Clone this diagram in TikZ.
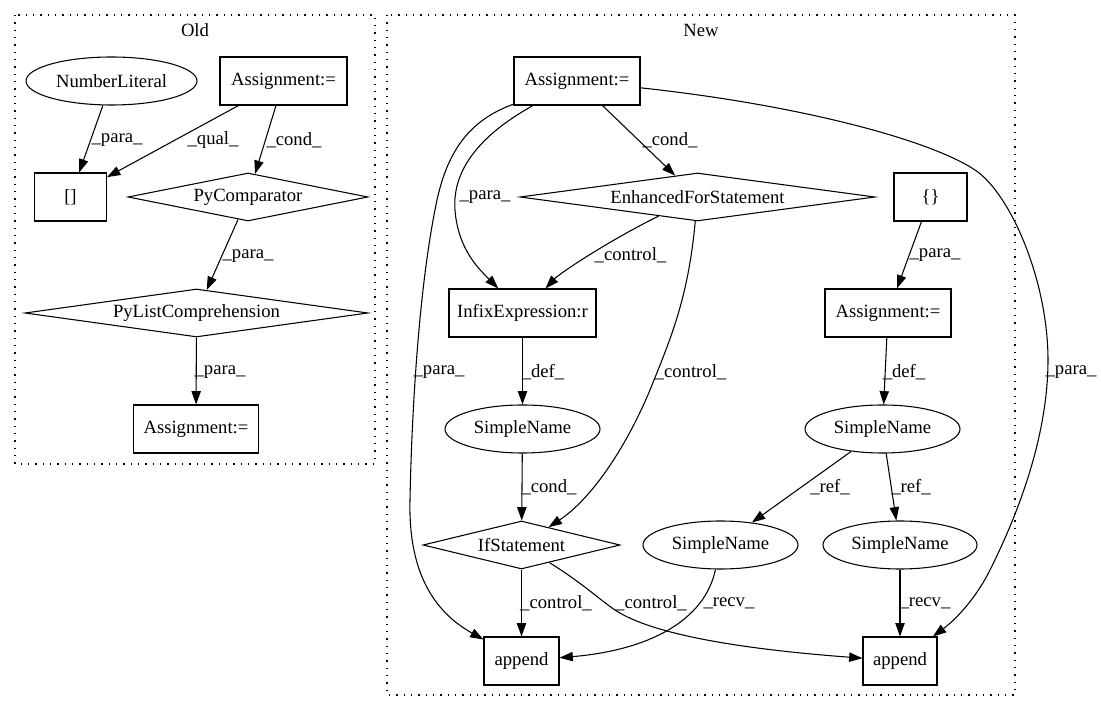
\documentclass[tikz,border=0pt]{standalone}
\usepackage{fontspec}
\setmainfont{Liberation Serif}
\usetikzlibrary{shapes.geometric,arrows.meta}
\begin{document}
\begin{tikzpicture}[x=0.75pt,y=-0.75pt,
  txt/.style={font=\fontsize{14}{16}\selectfont},
  box/.style={txt, draw, rectangle, line width=0.8pt, minimum height=36pt, inner sep=0pt},
  ell/.style={txt, draw, ellipse, line width=0.8pt, minimum height=36pt, inner sep=0pt},
  dia/.style={txt, draw, diamond, line width=0.8pt, minimum height=36pt, inner sep=0pt},
  arr/.style={line width=0.8pt, -{Triangle[length=10pt,width=7pt]}},
  lab/.style={txt, inner sep=0pt},
  cluster/.style={line width=1pt, dash pattern=on 1pt off 4.5pt}]
\useasboundingbox (0,0) rectangle (1101,712);
\fill[white] (0,0) rectangle (1101,712);
% clusters
\draw[cluster] (15,15) rectangle (375,464);
\node[lab] (oldlab) at (195,30) {Old};
\draw[cluster] (387,15) rectangle (1015,695);
\node[lab] (newlab) at (701,30) {New};
% Old nodes
\node[ell, minimum width=128.25pt] (nl) at (111.5,81) {NumberLiteral};
\node[box, minimum width=95.25pt] (oa) at (283.5,81) {Assignment:=};
\node[box, minimum width=54pt] (ob) at (70.5,197) {[]};
\node[dia, shape aspect=5, minimum width=180pt] (pc) at (248,197) {PyComparator};
\node[dia, shape aspect=7.15, minimum width=257.25pt] (plc) at (196.5,313) {PyListComprehension};
\node[box, minimum width=93.75pt] (oa2) at (196,429) {Assignment:=};
% Old edges
\draw[arr] (nl) -- (ob);
\draw[arr] (oa) -- (ob);
\draw[arr] (oa) -- (pc);
\draw[arr] (pc) -- (plc);
\draw[arr] (plc) -- (oa2);
\node[lab] (l1) at (117,140) {\_para\_};
\node[lab] (l2) at (213,140) {\_qual\_};
\node[lab] (l3) at (294,140) {\_cond\_};
\node[lab] (l4) at (248,256) {\_para\_};
\node[lab] (l5) at (220,372) {\_para\_};
% New nodes
\node[box, minimum width=94.5pt] (na) at (577,81) {Assignment:=};
\node[dia, shape aspect=7.4, minimum width=266.25pt] (efs) at (697.5,197) {EnhancedForStatement};
\node[box, minimum width=54.75pt] (br) at (930.5,197) {\{\}};
\node[box, minimum width=110.25pt] (ie) at (522.5,313) {InfixExpression:r};
\node[box, minimum width=94.5pt] (na2) at (888,313) {Assignment:=};
\node[ell, minimum width=116.25pt] (sn1) at (522.5,429) {SimpleName};
\node[ell, minimum width=116.25pt] (sn2) at (882.5,429) {SimpleName};
\node[dia, shape aspect=4.1, minimum width=147.75pt] (ifs) at (521.5,545) {IfStatement};
\node[ell, minimum width=116.25pt] (sn3) at (720.5,545) {SimpleName};
\node[ell, minimum width=115.5pt] (sn4) at (900,545) {SimpleName};
\node[box, minimum width=56.25pt] (ap1) at (521.5,661) {append};
\node[box, minimum width=55.5pt] (ap2) at (900,661) {append};
% New edges
\draw[arr] (na) -- (efs);
\draw[arr] (na) .. controls (480,135) and (452,170) .. (455,210) .. controls (458,250) and (480,270) .. (ie);
\draw[arr] (na) .. controls (470,120) and (448,150) .. (437,200) .. controls (420,280) and (412,400) .. (410,500) .. controls (408,580) and (440,615) .. (ap1);
\draw[arr] (na) .. controls (800,105) and (930,140) .. (975,170) .. controls (1010,193) and (1048,280) .. (1048,360) .. controls (1048,440) and (1015,520) .. (990,570) .. controls (975,600) and (955,620) .. (ap2);
\draw[arr] (efs) .. controls (610,240) and (560,273) .. (ie);
\draw[arr] (efs) .. controls (688,300) and (670,340) .. (650,390) .. controls (625,450) and (590,500) .. (ifs);
\draw[arr] (br) -- (na2);
\draw[arr] (ie) -- (sn1);
\draw[arr] (na2) -- (sn2);
\draw[arr] (sn1) -- (ifs);
\draw[arr] (sn2) -- (sn3);
\draw[arr] (sn2) -- (sn4);
\draw[arr] (ifs) -- (ap1);
\draw[arr] (ifs) .. controls (585,585) and (600,600) .. (615,610) .. controls (660,640) and (780,652) .. (ap2);
\draw[arr] (sn3) .. controls (705,620) and (650,650) .. (ap1);
\draw[arr] (sn4) -- (ap2);
% New labels
\node[lab] (m1) at (670,140) {\_cond\_};
\node[lab] (m2) at (485,197) {\_para\_};
\node[lab] (m3) at (630.5,255) {\_control\_};
\node[lab] (m4) at (935,255) {\_para\_};
\node[lab] (m5) at (439,372) {\_para\_};
\node[lab] (m6) at (543,372) {\_def\_};
\node[lab] (m7) at (690.5,372) {\_control\_};
\node[lab] (m8) at (904,372) {\_def\_};
\node[lab] (m9) at (1071,372) {\_para\_};
\node[lab] (m10) at (549,487) {\_cond\_};
\node[lab] (m11) at (830,487) {\_ref\_};
\node[lab] (m12) at (911,487) {\_ref\_};
\node[lab] (m13) at (556,603) {\_control\_};
\node[lab] (m14) at (651,603) {\_control\_};
\node[lab] (m15) at (729,603) {\_recv\_};
\node[lab] (m16) at (925,603) {\_recv\_};
\end{tikzpicture}
\end{document}
